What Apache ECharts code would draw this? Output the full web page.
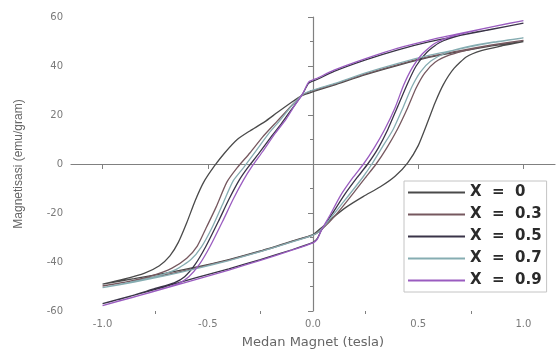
<!DOCTYPE html>
<html>
<head>
<meta charset="utf-8">
<title>Magnetisasi vs Medan Magnet</title>
<script src="https://cdn.jsdelivr.net/npm/echarts@6/dist/echarts.min.js"></script>
<style>
  html, body { margin: 0; padding: 0; background: #fff; }
  #chart { width: 557px; height: 356px; }
</style>
</head>
<body>
<div id="chart"></div>
<script>
// legend names
const seriesNames = ['X = 0', 'X = 0.3', 'X = 0.5', 'X = 0.7', 'X = 0.9'];
const seriesColors = ['#4a4a4a', '#76585f', '#3a3448', '#86adb2', '#9a5cc0'];

// tick labels
const xTicks = [-1.0, -0.5, 0.0, 0.5, 1.0];
const xMinorTicks = [-0.75, -0.25, 0.25, 0.75];
const yTicks = [-60, -40, -20, 0, 20, 40, 60];

// hysteresis loops [H (tesla), M (emu/gram)], upper branch then lower branch
const loopX0 = [
  [1.00, 50.0], [0.85, 48.2], [0.70, 46.0], [0.55, 43.5], [0.40, 40.2], [0.25, 36.5], [0.10, 32.2], [0.00, 29.5],
  [-0.05, 28.0], [-0.10, 25.3], [-0.17, 21.0], [-0.23, 17.2], [-0.30, 13.5], [-0.36, 10.0], [-0.42, 4.5], [-0.47, -1.0],
  [-0.52, -7.5], [-0.56, -15.0], [-0.60, -24.0], [-0.64, -32.0], [-0.68, -37.5], [-0.73, -41.5], [-0.80, -44.5],
  [-0.90, -47.0], [-1.00, -49.0],
  [-0.85, -46.8], [-0.70, -44.5], [-0.55, -42.0], [-0.40, -39.0], [-0.25, -35.5], [-0.10, -31.5], [0.00, -28.8],
  [0.04, -26.0], [0.10, -21.5], [0.16, -17.5], [0.24, -13.2], [0.32, -9.3], [0.39, -5.0], [0.45, 0.5], [0.50, 7.5],
  [0.54, 16.0], [0.58, 25.0], [0.62, 32.5], [0.67, 39.0], [0.73, 43.8], [0.80, 46.3], [0.90, 48.3], [1.00, 50.0]
];
const loopX03 = [
  [1.00, 50.5], [0.85, 48.6], [0.70, 46.3], [0.55, 43.8], [0.40, 40.5], [0.25, 36.8], [0.10, 32.5], [0.00, 30.0],
  [-0.05, 28.2], [-0.10, 24.0], [-0.17, 17.5], [-0.24, 11.0], [-0.30, 4.5], [-0.36, -1.5], [-0.41, -7.5],
  [-0.46, -17.5], [-0.51, -26.5], [-0.55, -33.5], [-0.60, -38.5], [-0.67, -42.5], [-0.76, -45.5], [-0.88, -48.0],
  [-1.00, -49.8],
  [-0.85, -47.6], [-0.70, -45.2], [-0.55, -42.3], [-0.40, -39.2], [-0.25, -35.7], [-0.10, -31.7], [0.00, -29.0],
  [0.03, -27.5], [0.08, -23.5], [0.14, -17.5], [0.20, -11.0], [0.25, -5.5], [0.30, 0.0], [0.35, 6.5], [0.40, 14.0],
  [0.45, 23.0], [0.49, 31.0], [0.53, 37.0], [0.58, 41.5], [0.65, 44.5], [0.75, 46.8], [0.87, 48.8], [1.00, 50.5]
];
const loopX05 = [
  [1.00, 57.5], [0.85, 55.0], [0.70, 52.5], [0.55, 49.8], [0.40, 46.5], [0.25, 42.5], [0.10, 37.8], [0.02, 34.5],
  [-0.02, 33.0], [-0.05, 28.5], [-0.10, 22.5], [-0.15, 16.5], [-0.20, 11.0], [-0.26, 4.0], [-0.31, -1.5],
  [-0.35, -6.5], [-0.40, -14.5], [-0.45, -23.5], [-0.51, -33.8], [-0.56, -41.0], [-0.61, -46.0], [-0.66, -48.5],
  [-0.75, -50.8], [-0.87, -54.0], [-1.00, -57.0],
  [-0.85, -53.5], [-0.70, -50.0], [-0.55, -46.3], [-0.40, -42.8], [-0.25, -39.0], [-0.10, -35.0], [0.00, -32.0],
  [0.02, -30.5], [0.04, -27.0], [0.09, -20.5], [0.15, -12.5], [0.21, -5.5], [0.26, 0.0], [0.31, 6.5], [0.355, 14.0],
  [0.40, 23.0], [0.45, 33.0], [0.49, 40.0], [0.54, 45.5], [0.60, 49.5], [0.70, 52.5], [0.85, 55.0], [1.00, 57.5]
];
const loopX07 = [
  [1.00, 51.5], [0.85, 49.5], [0.70, 47.0], [0.55, 44.3], [0.40, 41.0], [0.25, 37.2], [0.10, 32.8], [0.00, 30.2],
  [-0.05, 28.3], [-0.10, 23.8], [-0.16, 17.5], [-0.21, 12.5], [-0.27, 5.5], [-0.33, -1.5], [-0.38, -7.0],
  [-0.43, -16.5], [-0.48, -26.0], [-0.53, -33.8], [-0.58, -39.0], [-0.65, -43.0], [-0.75, -46.0], [-0.87, -48.3],
  [-1.00, -50.5],
  [-0.85, -48.2], [-0.70, -45.6], [-0.55, -42.6], [-0.40, -39.4], [-0.25, -35.8], [-0.10, -31.8], [0.00, -29.0],
  [0.03, -27.5], [0.08, -22.5], [0.14, -16.0], [0.20, -9.5], [0.24, -5.0], [0.28, 0.0], [0.33, 7.0], [0.38, 14.0],
  [0.43, 23.5], [0.47, 31.5], [0.51, 37.5], [0.56, 42.0], [0.63, 45.3], [0.73, 47.8], [0.86, 49.8], [1.00, 51.5]
];
const loopX09 = [
  [1.00, 58.5], [0.85, 56.0], [0.70, 53.3], [0.55, 50.5], [0.40, 47.2], [0.25, 43.0], [0.10, 38.3], [0.02, 35.0],
  [-0.02, 33.5], [-0.05, 28.5], [-0.09, 23.5], [-0.13, 18.0], [-0.18, 12.5], [-0.24, 5.0], [-0.29, -1.0],
  [-0.33, -6.5], [-0.38, -14.5], [-0.43, -23.5], [-0.49, -33.8], [-0.54, -41.0], [-0.59, -46.0], [-0.64, -48.8],
  [-0.73, -51.3], [-0.86, -54.5], [-1.00, -57.8],
  [-0.85, -54.2], [-0.70, -50.7], [-0.55, -47.0], [-0.40, -43.3], [-0.25, -39.3], [-0.10, -35.2], [0.00, -32.2],
  [0.02, -30.8], [0.04, -27.0], [0.08, -21.0], [0.13, -13.0], [0.19, -5.5], [0.24, 0.0], [0.29, 6.5], [0.34, 14.0],
  [0.39, 23.0], [0.43, 32.0], [0.47, 39.0], [0.52, 45.0], [0.58, 49.3], [0.68, 52.6], [0.84, 55.8], [1.00, 58.5]
];
const loops = [loopX0, loopX03, loopX05, loopX07, loopX09];

const chart = echarts.init(document.getElementById('chart'), null, { renderer: 'canvas' });

const axisGrey = '#808080';
const labelGrey = '#7a7a7a';

chart.setOption({
  animation: false,
  backgroundColor: '#fff',
  grid: { left: 71, top: 17, width: 484, height: 294 },
  legend: {
    orient: 'vertical',
    left: 404,
    top: 181,
    padding: [4, 5, 4, 4],
    itemGap: 7,
    itemWidth: 57,
    itemHeight: 2,
    icon: 'rect',
    backgroundColor: '#fff',
    borderColor: '#c4c4c4',
    borderWidth: 1,
    data: seriesNames,
    formatter: name => name.replace(/ /g, '  '),
    textStyle: { fontFamily: 'DejaVu Sans', fontSize: 15, fontWeight: 'bold', color: '#2a2a2a' }
  },
  xAxis: [{
    type: 'value',
    min: -1.15,
    max: 1.15,
    name: 'Medan Magnet (tesla)',
    nameLocation: 'middle',
    nameGap: 25,
    nameTextStyle: { fontFamily: 'DejaVu Sans', fontSize: 13, color: '#666' },
    axisLine: { show: true, lineStyle: { color: axisGrey, width: 1.2 } },
    axisTick: { show: true, length: 5, customValues: xTicks, lineStyle: { color: axisGrey } },
    axisLabel: {
      customValues: xTicks,
      formatter: v => v.toFixed(1),
      color: labelGrey, fontSize: 10, fontFamily: 'DejaVu Sans', margin: 8
    },
    splitLine: { show: false }
  }, {
    type: 'value',
    min: -1.15,
    max: 1.15,
    position: 'bottom',
    axisLine: { show: false },
    axisTick: { show: true, length: 3, customValues: xMinorTicks, lineStyle: { color: axisGrey } },
    axisLabel: { show: false },
    splitLine: { show: false }
  }],
  yAxis: {
    type: 'value',
    min: -60,
    max: 60,
    interval: 20,
    name: 'Magnetisasi (emu/gram)',
    nameLocation: 'middle',
    nameGap: 46,
    nameTextStyle: { fontFamily: 'Liberation Sans', fontSize: 12, color: '#666' },
    axisLine: { show: true, lineStyle: { color: axisGrey, width: 1.2 } },
    axisTick: { show: true, length: 5, customValues: yTicks, lineStyle: { color: axisGrey } },
    minorTick: { show: true, splitNumber: 2, length: 3, lineStyle: { color: axisGrey } },
    axisLabel: { customValues: yTicks, color: labelGrey, fontSize: 10, fontFamily: 'DejaVu Sans', margin: 8 },
    splitLine: { show: false },
    minorSplitLine: { show: false }
  },
  series: seriesNames.map((name, i) => ({
    name: name,
    type: 'line',
    data: loops[i],
    xAxisIndex: 0,
    showSymbol: false,
    smooth: 0.2,
    color: seriesColors[i],
    lineStyle: { width: 1.3, color: seriesColors[i] }
  }))
});
</script>
</body>
</html>
